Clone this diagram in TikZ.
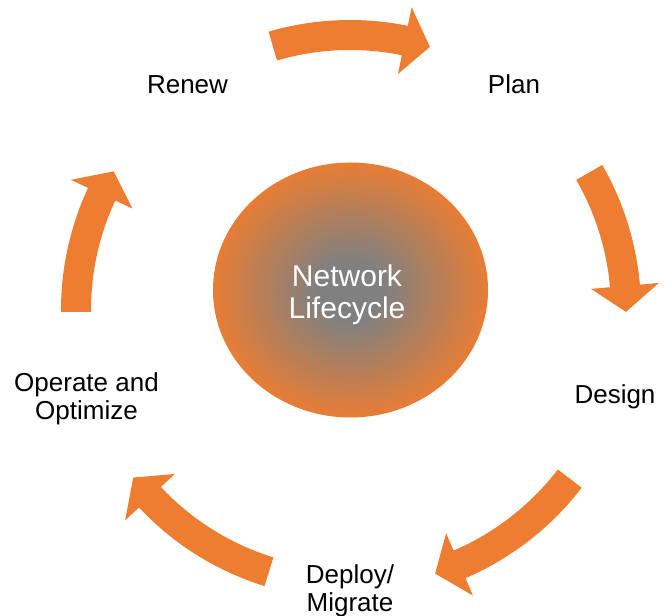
\documentclass[tikz,border=0pt]{standalone}
\usepackage{fontspec}
\setmainfont{Liberation Sans}
\usetikzlibrary{shapes.geometric}
\definecolor{lcorange}{RGB}{237,125,49}
\definecolor{lcgray}{RGB}{128,128,128}
\pgfdeclareradialshading{lcshade}{\pgfpoint{0bp}{0bp}}{color(0bp)=(lcgray); color(6bp)=(lcgray); color(26bp)=(lcorange); color(50bp)=(lcorange)}
% #1 tail angle, #2 tip angle, #3 radius
\newcommand\lcarrow[3]{%
  \fill[lcorange] (#1:#3pt+15pt) arc[start angle=#1, end angle=#2+5.4, radius=#3pt+15pt]
    -- (#2+5.4:#3pt+34pt) -- (#2:#3pt) -- (#2+5.4:#3pt-34pt) -- (#2+5.4:#3pt-15pt)
    arc[start angle=#2+5.4, end angle=#1, radius=#3pt-15pt] -- cycle;}
\tikzset{
  lbl/.style={font=\fontsize{26}{28}\selectfont, align=center, inner sep=0pt, anchor=base, text=black},
  coretxt/.style={font=\fontsize{30}{32}\selectfont, align=center, inner sep=0pt, anchor=base, text=white},
  core/.style={ellipse, minimum width=275pt, minimum height=255pt, inner sep=0pt, shade, shading=lcshade}
}
\begin{document}
\begin{tikzpicture}[x=1pt,y=1pt]
  \fill[white] (0,0) rectangle (665,616);
  \useasboundingbox (0,0) rectangle (665,616);
  \node[core] (corebg) at (350.5,326) {};
  \node[coretxt] (coretext) at (347,297) {Network\\Lifecycle};
  \node[lbl] (renew) at (187.5,522) {Renew};
  \node[lbl] (plan) at (514,522) {Plan};
  \node[lbl] (design) at (615,212) {Design};
  \node[lbl] (deploy) at (350,4) {Deploy/\\Migrate};
  \node[lbl] (operate) at (86.5,196) {Operate and\\Optimize};
  \begin{scope}[shift={(350,306)}]
    \lcarrow{106.3}{73.1}{275}
    \lcarrow{29.9}{-0.4}{276}
    \lcarrow{-37.5}{-72.1}{277}
    \lcarrow{-107.2}{-142.3}{274}
    \lcarrow{180.4}{149.6}{274}
  \end{scope}
\end{tikzpicture}
\end{document}
